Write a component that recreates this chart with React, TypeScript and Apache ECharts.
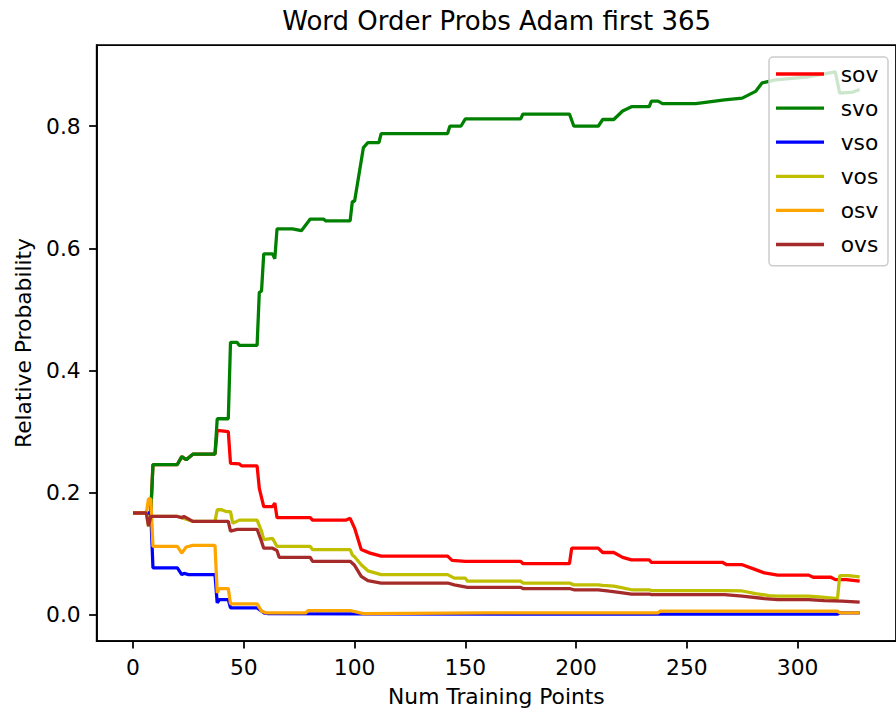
import React, { useEffect, useRef } from "react";
import * as echarts from "echarts";

const titleText = "Word Order Probs Adam first 365";
const xAxisLabel = "Num Training Points";
const yAxisLabel = "Relative Probability";

const xTicks = [0, 50, 100, 150, 200, 250, 300];
const yTicks = [0, 0.2, 0.4, 0.6, 0.8];

const seriesNames = ["sov", "svo", "vso", "vos", "osv", "ovs"];
const seriesColors = ["#ff0000", "#008000", "#0000ff", "#bfbf00", "#ffa500", "#a52a2a"];

const sovValues: [number, number][] = [
  [0, 0.1667], [8, 0.1667], [9, 0.246], [20, 0.246], [22, 0.259], [24, 0.254], [27, 0.263], [37, 0.263],
  [38, 0.302], [43, 0.3], [44, 0.248], [48, 0.247], [49, 0.244], [56, 0.244], [57, 0.207], [59, 0.177],
  [63, 0.177], [64, 0.183], [65, 0.159], [80, 0.159], [81, 0.155], [96, 0.155], [98, 0.158], [100, 0.142],
  [103, 0.107], [107, 0.101], [112, 0.096], [142, 0.096], [144, 0.089], [150, 0.0876], [175, 0.0876],
  [176, 0.0837], [197, 0.0837], [198, 0.109], [210, 0.109], [212, 0.102], [217, 0.102], [221, 0.094],
  [225, 0.09], [233, 0.09], [234, 0.086], [266, 0.086], [268, 0.082], [275, 0.082], [281, 0.074],
  [285, 0.0685], [291, 0.065], [305, 0.065], [307, 0.0615], [315, 0.0615], [317, 0.0576], [322, 0.0576],
  [328, 0.055],
];

const svoValues: [number, number][] = [
  [0, 0.1667], [8, 0.1667], [9, 0.246], [20, 0.246], [22, 0.259], [24, 0.254], [27, 0.263], [37, 0.263],
  [38, 0.321], [43, 0.321], [44, 0.446], [47, 0.446], [48, 0.441], [56, 0.441], [57, 0.528], [58, 0.53],
  [59, 0.591], [63, 0.591], [64, 0.583], [65, 0.632], [72, 0.632], [76, 0.629], [80, 0.648], [86, 0.648],
  [87, 0.645], [98, 0.645], [99, 0.677], [100, 0.677], [104, 0.765], [106, 0.773], [111, 0.773],
  [112, 0.788], [142, 0.788], [143, 0.8], [148, 0.8], [150, 0.812], [175, 0.812], [176, 0.82], [197, 0.82],
  [199, 0.8], [210, 0.8], [212, 0.811], [217, 0.811], [221, 0.825], [225, 0.832], [233, 0.832],
  [234, 0.841], [237, 0.841], [239, 0.837], [254, 0.837], [267, 0.843], [275, 0.846], [281, 0.857],
  [284, 0.871], [290, 0.876], [305, 0.881], [317, 0.889], [319, 0.854], [325, 0.856], [328, 0.86],
];

const vsoValues: [number, number][] = [
  [0, 0.1667], [8, 0.1667], [9, 0.0767], [20, 0.0767], [22, 0.0657], [23, 0.068], [25, 0.0657], [37, 0.0657],
  [38, 0.0196], [39, 0.025], [43, 0.025], [44, 0.0114], [56, 0.0114], [59, 0.0033], [61, 0.002],
  [100, 0.0015], [200, 0.001], [318, 0.001], [319, 0.003], [328, 0.003],
];

const vosValues: [number, number][] = [
  [0, 0.1667], [6, 0.1667], [7, 0.145], [8, 0.161], [20, 0.161], [22, 0.159], [27, 0.153], [37, 0.153],
  [38, 0.172], [40, 0.172], [42, 0.169], [44, 0.169], [45, 0.15], [48, 0.155], [56, 0.155], [58, 0.137],
  [59, 0.123], [63, 0.125], [65, 0.112], [80, 0.112], [81, 0.1066], [98, 0.1066], [99, 0.098], [100, 0.095],
  [103, 0.082], [106, 0.072], [112, 0.0657], [142, 0.0657], [145, 0.06], [150, 0.06], [151, 0.055],
  [175, 0.055], [176, 0.052], [197, 0.052], [199, 0.049], [210, 0.049], [212, 0.048], [217, 0.047],
  [221, 0.044], [225, 0.041], [233, 0.041], [234, 0.0397], [267, 0.0397], [275, 0.039], [281, 0.0348],
  [287, 0.0315], [291, 0.0305], [305, 0.0305], [311, 0.029], [318, 0.0266], [319, 0.064], [323, 0.064],
  [328, 0.062],
];

const osvValues: [number, number][] = [
  [0, 0.1667], [6, 0.1667], [7, 0.19], [8, 0.19], [9, 0.112], [20, 0.112], [22, 0.101], [24, 0.111],
  [27, 0.1137], [37, 0.1137], [38, 0.036], [39, 0.043], [43, 0.043], [44, 0.018], [56, 0.018], [58, 0.006],
  [60, 0.0033], [78, 0.0033], [79, 0.007], [98, 0.007], [104, 0.002], [160, 0.0033], [237, 0.0033],
  [238, 0.006], [318, 0.006], [319, 0.0033], [328, 0.0033],
];

const ovsValues: [number, number][] = [
  [0, 0.1667], [6, 0.1667], [7, 0.145], [8, 0.161], [20, 0.161], [22, 0.159], [23, 0.161], [27, 0.153],
  [43, 0.153], [44, 0.137], [47, 0.14], [56, 0.14], [58, 0.12], [59, 0.109], [63, 0.109], [65, 0.105],
  [66, 0.094], [80, 0.094], [81, 0.0876], [98, 0.0876], [100, 0.081], [103, 0.063], [106, 0.056],
  [112, 0.052], [142, 0.052], [145, 0.049], [151, 0.045], [175, 0.045], [176, 0.043], [197, 0.043],
  [199, 0.041], [210, 0.041], [215, 0.0386], [221, 0.036], [225, 0.034], [233, 0.034], [234, 0.033],
  [267, 0.033], [275, 0.0305], [285, 0.0266], [291, 0.025], [305, 0.025], [312, 0.0234], [320, 0.0223],
  [328, 0.0207],
];

const allValues = [sovValues, svoValues, vsoValues, vosValues, osvValues, ovsValues];

const FONT = "DejaVu Sans";
const TICK_FONT = 21.8;

export default function App() {
  const ref = useRef<HTMLDivElement>(null);

  useEffect(() => {
    if (!ref.current) return;
    const chart = echarts.init(ref.current, undefined, { renderer: "svg" });

    const axisLineStyle = { color: "#000", width: 1.75 };

    const option: any = {
      animation: false,
      backgroundColor: "#ffffff",
      grid: {
        left: 96.7,
        right: -5.8,
        top: 45,
        bottom: 68.7,
        show: true,
        borderColor: "#000",
        borderWidth: 1.75,
        backgroundColor: "transparent",
      },
      graphic: [
        {
          type: "text",
          x: 496.7,
          y: 20.5,
          style: {
            text: titleText,
            font: `26px "${FONT}"`,
            fill: "#000",
            align: "center",
            verticalAlign: "middle",
          },
          z: 10,
        },
      ],
      xAxis: {
        type: "value",
        min: -16.4,
        max: 344.4,
        name: xAxisLabel,
        nameLocation: "middle",
        nameGap: 44,
        nameTextStyle: { color: "#000", fontSize: TICK_FONT, fontFamily: FONT },
        axisLine: { show: true, onZero: false, lineStyle: axisLineStyle },
        axisTick: { show: true, length: 7.6, lineStyle: axisLineStyle, customValues: xTicks },
        axisLabel: {
          customValues: xTicks,
          color: "#000",
          fontSize: TICK_FONT,
          fontFamily: FONT,
          margin: 15,
          formatter: (v: number) => String(v),
        },
        splitLine: { show: false },
      },
      yAxis: {
        type: "value",
        min: -0.0429,
        max: 0.933,
        name: yAxisLabel,
        nameLocation: "middle",
        nameRotate: 90,
        nameGap: 62.7,
        nameTextStyle: { color: "#000", fontSize: TICK_FONT, fontFamily: FONT },
        axisLine: { show: true, onZero: false, lineStyle: axisLineStyle },
        axisTick: { show: true, length: 7.6, lineStyle: axisLineStyle, customValues: yTicks },
        axisLabel: {
          customValues: yTicks,
          color: "#000",
          fontSize: TICK_FONT,
          fontFamily: FONT,
          margin: 16,
          formatter: (v: number) => v.toFixed(1),
        },
        splitLine: { show: false },
      },
      legend: {
        orient: "vertical",
        left: 769,
        top: 57,
        padding: [6, 9.7, 10.3, 7],
        itemGap: 12.1,
        itemWidth: 48,
        itemHeight: 3.3,
        icon: "rect",
        selectedMode: false,
        backgroundColor: "rgba(255,255,255,0.8)",
        borderColor: "#cccccc",
        borderWidth: 1.5,
        borderRadius: 4,
        data: seriesNames,
        textStyle: {
          color: "#000",
          fontSize: TICK_FONT,
          fontFamily: FONT,
          lineHeight: 22,
          padding: [0, 0, 0, 11.7],
        },
      },
      series: seriesNames.map((name, i) => ({
        name,
        type: "line",
        data: allValues[i],
        showSymbol: false,
        symbol: "none",
        silent: true,
        clip: true,
        color: seriesColors[i],
        itemStyle: { color: seriesColors[i] },
        lineStyle: { color: seriesColors[i], width: 3.27 },
        emphasis: { disabled: true },
      })),
    };

    chart.setOption(option);
    return () => chart.dispose();
  }, []);

  return (
    <div
      ref={ref}
      style={{ position: "absolute", left: 0, top: 0, width: 896, height: 712 }}
    />
  );
}
